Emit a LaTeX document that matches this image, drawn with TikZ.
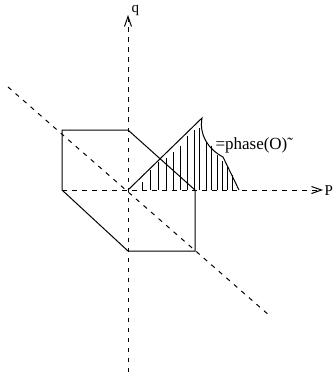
\documentclass[tikz,border=0pt]{standalone}
\usepackage{fontspec}
\setmainfont{Liberation Serif}
\usepackage{tikz}
\usetikzlibrary{arrows.meta}

\begin{document}
\begin{tikzpicture}[x=1pt,y=-1pt,line width=1pt,
    axisline/.style={dash pattern=on 4.5pt off 5.5pt},
    axisarrow/.style={axisline,-{Straight Barb[length=10pt,width=7pt]}},
    lbl/.style={inner sep=0pt,font=\fontsize{15}{17}\selectfont}]
  \useasboundingbox (0,0) rectangle (335,377);
  % points
  \coordinate (O) at (128,190);
  \coordinate (qlo) at (128,372);
  \coordinate (qhi) at (128,15);
  \coordinate (plo) at (62,190);
  \coordinate (phi) at (323,190);
  \coordinate (dlo) at (8,87);
  \coordinate (dhi) at (270,316);
  \coordinate (A) at (62,130);
  \coordinate (B) at (128,130);
  \coordinate (C) at (195,190);
  \coordinate (D) at (195,251);
  \coordinate (E) at (128,251);
  \coordinate (F) at (62,190);
  \coordinate (T) at (202,118);
  \coordinate (K) at (223,157);
  \coordinate (L) at (239,190);
  % axes
  \draw[axisarrow] (qlo) -- (qhi);
  \draw[axisarrow] (plo) -- (phi);
  \draw[axisline] (dlo) -- (dhi);
  \node[lbl,anchor=base west] (qlab) at (131,13) {q};
  \node[lbl,anchor=base west] (plab) at (324,195) {P};
  % hexagon
  \draw (F) -- (A) -- (B) -- (C) -- (D) -- (E) -- (F);
  % phase region
  \draw (O) -- (T) .. controls (199,135) and (208,149) .. (K) -- (L);
  \foreach \x/\t in {142/182, 150/170, 158/162, 166/158, 173/152, 180/146,
      187.5/136, 194/130, 199/128, 206/142, 211/146, 217/155, 222/161,
      227/167, 232/175} {
    \draw (\x,190) -- (\x,\t);
  }
  \node[lbl,anchor=base west,font=\fontsize{17}{19}\selectfont] (phase) at (215,149) {=phase(O\~{)}};
\end{tikzpicture}
\end{document}
